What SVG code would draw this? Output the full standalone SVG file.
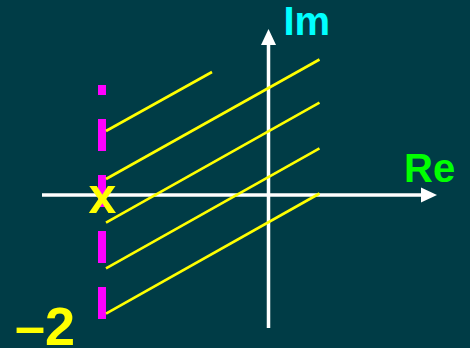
<svg xmlns="http://www.w3.org/2000/svg" width="470" height="348" viewBox="0 0 470 348">
<style>
.axis{stroke:#ffffff;stroke-width:3.5;fill:none}
.ray{stroke:#ffff00;stroke-width:2.6;fill:none}
.lbl{font-family:"Liberation Sans",Arial,sans-serif;font-weight:bold}
</style>
<rect width="470" height="348" fill="#003c46"/>
<g id="axes">
<line class="axis" x1="42" y1="195" x2="424" y2="195"/>
<polygon points="437,195 421,187.5 421,202.5" fill="#ffffff"/>
<line class="axis" x1="268.5" y1="328" x2="268.5" y2="42"/>
<polygon points="268.5,29 261,45 276,45" fill="#ffffff"/>
</g>
<g id="boundary">
<line x1="102" y1="85" x2="102" y2="319" stroke="#ff00ff" stroke-width="8" stroke-dasharray="10 24 32 24 32 24 32 24 32"/>
</g>
<g id="rays">
<line class="ray" x1="106" y1="131" x2="212" y2="72"/>
<line class="ray" x1="106" y1="179" x2="319.5" y2="59.5"/>
<line class="ray" x1="106" y1="222.7" x2="319.5" y2="102.7"/>
<line class="ray" x1="106" y1="268.3" x2="319.5" y2="148.3"/>
<line class="ray" x1="106" y1="313.7" x2="319.5" y2="193.5"/>
</g>
<g id="labels">
<text class="lbl" x="102.5" y="213" font-size="50" fill="#ffff00" text-anchor="middle">x</text>
<text class="lbl" x="15" y="345" font-size="54" fill="#ffff00">–2</text>
<text class="lbl" x="283.5" y="35" font-size="40" fill="#00ffff">Im</text>
<text class="lbl" x="404" y="181.7" font-size="40" fill="#00ff00">Re</text>
</g>
</svg>
